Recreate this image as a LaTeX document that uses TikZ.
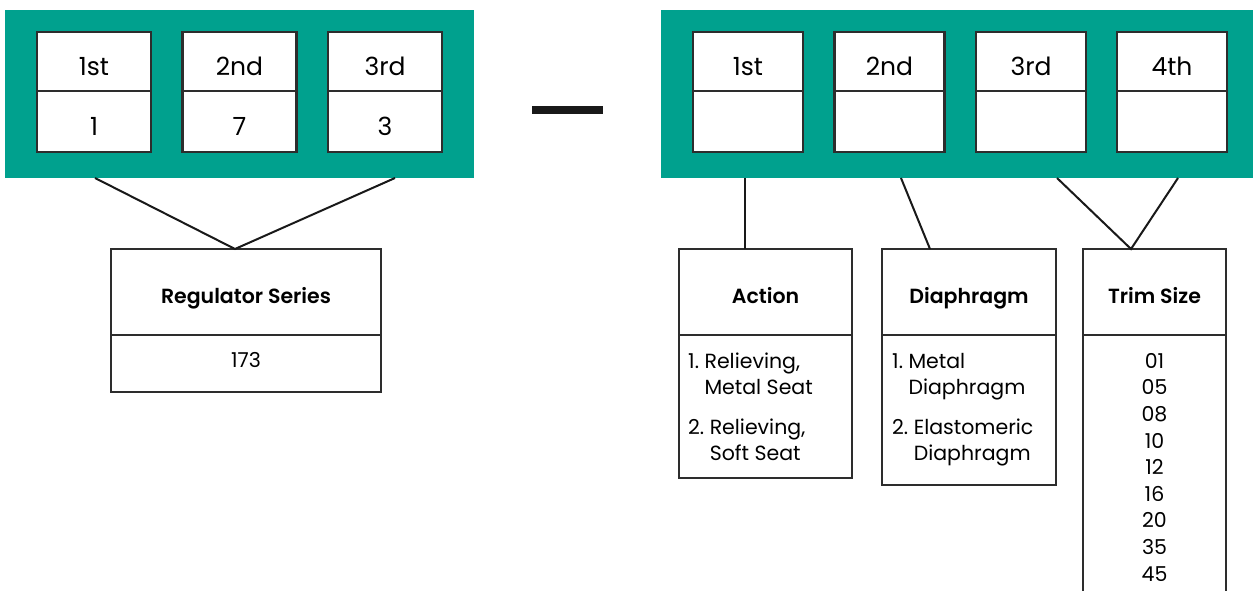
\documentclass[tikz,border=0pt]{standalone}
\usepackage{fontspec}
\setmainfont{Poppins}
\newfontfamily\semibold{Poppins SemiBold}
\definecolor{bandgreen}{RGB}{0,161,142}
\definecolor{edgegray}{RGB}{45,45,45}
\begin{document}
\begin{tikzpicture}[x=1pt,y=-1pt,
  slot/.style={draw=edgegray, line width=2.2pt, fill=white, minimum width=#1, minimum height=60, inner sep=0pt, font=\fontsize{25}{28}\selectfont, text height=27.4pt, text depth=0pt},
  head/.style={draw=edgegray, line width=1.2pt, minimum width=#1, minimum height=86, inner sep=0pt, font=\fontsize{20.5}{24}\selectfont\semibold, text height=22.3pt, text depth=0pt},
  body/.style={draw=edgegray, line width=1.2pt, minimum width=#1, inner sep=0pt},
  list/.style={inner sep=0pt, font=\fontsize{20.5}{26}\selectfont},
  wire/.style={line width=2pt, black!90}]
\clip (0,0) rectangle (1253,591);
% green bands and dash
\fill[bandgreen] (5,10) rectangle (474,178);
\fill[bandgreen] (661,10) rectangle (1260,178);
\fill[black!90] (532,106) rectangle (603,114);
% left code
\node[slot=114, minimum height=59] (s1) at (94,61.5) {1st};
\node[slot=114, minimum height=61] (v1) at (94,121.5) {1};
\node[slot=114, minimum height=59] (s2) at (239.5,61.5) {2nd};
\node[slot=114, minimum height=61] (v2) at (239.5,121.5) {7};
\node[slot=114, minimum height=59] (s3) at (385,61.5) {3rd};
\node[slot=114, minimum height=61] (v3) at (385,121.5) {3};
% right code
\node[slot=110, minimum height=59] (r1) at (748,61.5) {1st};
\node[slot=110, minimum height=61] (w1) at (748,121.5) {};
\node[slot=110, minimum height=59] (r2) at (889.5,61.5) {2nd};
\node[slot=110, minimum height=61] (w2) at (889.5,121.5) {};
\node[slot=110, minimum height=59] (r3) at (1031,61.5) {3rd};
\node[slot=110, minimum height=61] (w3) at (1031,121.5) {};
\node[slot=110, minimum height=59] (r4) at (1172,61.5) {4th};
\node[slot=110, minimum height=61] (w4) at (1172,121.5) {};
% series box
\node[head=270] (series) at (246,292) {Regulator Series};
\node[body=270, minimum height=57, font=\fontsize{20.5}{24}\selectfont, text height=14.3pt, text depth=7pt] (seriesval) at (246,363.5) {173};
% option boxes
\node[head=173] (action) at (765.5,292) {Action};
\node[body=173, minimum height=143] (actionlist) at (765.5,406.5) {};
\node[list, anchor=north west, align=left] (actiontxt) at (688,353)
  {1.~Relieving,\\\hphantom{1.~}Metal Seat\\[14pt]2.~Relieving,\\\hphantom{2.~}Soft Seat};
\node[head=174] (diaph) at (969,292) {Diaphragm};
\node[body=174, minimum height=150] (diaphlist) at (969,410) {};
\node[list, anchor=north west, align=left] (diaphtxt) at (892,353)
  {1.~Metal\\\hphantom{1.~}Diaphragm\\[14pt]2.~Elastomeric\\\hphantom{2.~}Diaphragm};
\node[head=143] (trim) at (1154.5,292) {Trim Size};
\node[body=143, minimum height=280] (trimlist) at (1154.5,475) {};
\node[list, anchor=north, align=center, font=\fontsize{20.5}{26.6}\selectfont] (trimtxt) at (1154.5,353)
  {01\\05\\08\\10\\12\\16\\20\\35\\45};
% connectors
\coordinate (tipL) at (235,249);
\coordinate (tipA) at (745,249);
\coordinate (tipD) at (930,249);
\coordinate (tipT) at (1131,249);
\draw[wire] (95,178) -- (tipL) -- (395,178);
\draw[wire] (745,178) -- (tipA);
\draw[wire] (901,178) -- (tipD);
\draw[wire] (1057,178) -- (tipT) -- (1178,178);
\end{tikzpicture}
\end{document}
